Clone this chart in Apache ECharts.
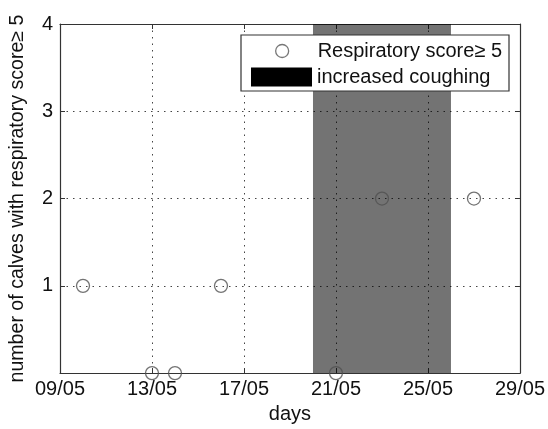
<!DOCTYPE html>
<html>
<head>
<meta charset="utf-8">
<script src="https://cdn.jsdelivr.net/npm/echarts@6/dist/echarts.min.js"></script>
<style>html,body{margin:0;padding:0;background:#fff;}#c{width:548px;height:429px;}</style>
</head>
<body>
<div id="c"></div>
<script>
// ---- data ----
const startDay = 9;               // 09/05 is the axis origin
const dates = ['10/05', '13/05', '14/05', '16/05', '21/05', '23/05', '27/05'];
const counts = [1, 0, 0, 1, 0, 2, 2];
const coughStart = '20/05';
const coughEnd = '26/05';
const xTickLabels = ['09/05', '13/05', '17/05', '21/05', '25/05', '29/05'];
const yTickLabels = ['', '1', '2', '3', '4'];
const scatterName = 'Respiratory score\u2265 5';
const coughName = 'increased coughing';

function dayIndex(s) { return parseInt(s.split('/')[0], 10) - startDay; }

const FONT = "'Liberation Sans', Arial, Helvetica, sans-serif";
const FS = 20;
const axisColor = '#333';
const gridLine = { show: true, lineStyle: { color: '#444', type: [1.5, 5], width: 1 } };

const chart = echarts.init(document.getElementById('c'), null, { renderer: 'canvas' });
chart.setOption({
  backgroundColor: '#fff',
  animation: false,
  grid: { left: 60, right: 28, top: 24, bottom: 50, show: false },
  xAxis: [{
    type: 'value', min: 0, max: 20, interval: 4, position: 'bottom',
    name: 'days', nameLocation: 'middle', nameGap: 29,
    nameTextStyle: { fontFamily: FONT, fontSize: FS, color: '#111' },
    axisLine: { show: true, onZero: false, lineStyle: { color: axisColor, width: 1.2 } },
    axisTick: { show: true, inside: true, length: 5, lineStyle: { color: axisColor } },
    axisLabel: { fontFamily: FONT, fontSize: FS, color: '#111', margin: 6,
      formatter: v => xTickLabels[Math.round(v / 4)] || '' },
    splitLine: gridLine
  }, {
    type: 'value', min: 0, max: 20, interval: 4, position: 'top',
    axisLine: { show: true, onZero: false, lineStyle: { color: axisColor, width: 1.2 } },
    axisTick: { show: true, inside: true, length: 5, lineStyle: { color: axisColor } },
    axisLabel: { show: false }, splitLine: { show: false }
  }],
  yAxis: [{
    type: 'value', min: 0, max: 4, interval: 1, position: 'left',
    name: 'number of calves with respiratory score\u2265 5', nameLocation: 'middle', nameGap: 32,
    nameTextStyle: { fontFamily: FONT, fontSize: 19.6, color: '#111' },
    axisLine: { show: true, onZero: false, lineStyle: { color: axisColor, width: 1.2 } },
    axisTick: { show: true, inside: true, length: 5, lineStyle: { color: axisColor } },
    axisLabel: { fontFamily: FONT, fontSize: FS, color: '#111', margin: 7,
      formatter: v => yTickLabels[Math.round(v)] },
    splitLine: gridLine
  }, {
    type: 'value', min: 0, max: 4, interval: 1, position: 'right',
    axisLine: { show: true, onZero: false, lineStyle: { color: axisColor, width: 1.2 } },
    axisTick: { show: true, inside: true, length: 5, lineStyle: { color: axisColor } },
    axisLabel: { show: false }, splitLine: { show: false }
  }],
  legend: [{
    data: [{ name: scatterName, icon: 'circle',
      itemStyle: { color: '#fff', borderColor: '#555', borderWidth: 1.3 } }],
    left: 275, top: 41, padding: 0, itemWidth: 61, itemHeight: 13, itemGap: 0,
    textStyle: { fontFamily: FONT, fontSize: FS, color: '#111' }, z: 20,
    selectedMode: false
  }, {
    data: [{ name: coughName, icon: 'rect', itemStyle: { color: '#000' } }],
    left: 251, top: 67, padding: 0, itemWidth: 61, itemHeight: 19, itemGap: 0,
    textStyle: { fontFamily: FONT, fontSize: FS, color: '#111' }, z: 20,
    selectedMode: false
  }],
  graphic: [{
    type: 'rect', z: 15,
    shape: { x: 241, y: 35, width: 268, height: 56 },
    style: { fill: '#fff', stroke: '#333', lineWidth: 1.2 }
  }],
  series: [{
    name: coughName, type: 'line', data: [], z: 1,
    itemStyle: { color: '#000' },
    markArea: {
      silent: true,
      itemStyle: { color: 'rgba(0,0,0,0.55)' },
      data: [[{ xAxis: dayIndex(coughStart) }, { xAxis: dayIndex(coughEnd) }]]
    }
  }, {
    name: scatterName, type: 'scatter', z: 3, clip: false,
    symbol: 'circle', symbolSize: 13,
    itemStyle: { color: 'rgba(0,0,0,0)', borderColor: '#505050', borderWidth: 1.3 },
    data: dates.map((d, i) => [dayIndex(d), counts[i]])
  }]
});
</script>
</body>
</html>
